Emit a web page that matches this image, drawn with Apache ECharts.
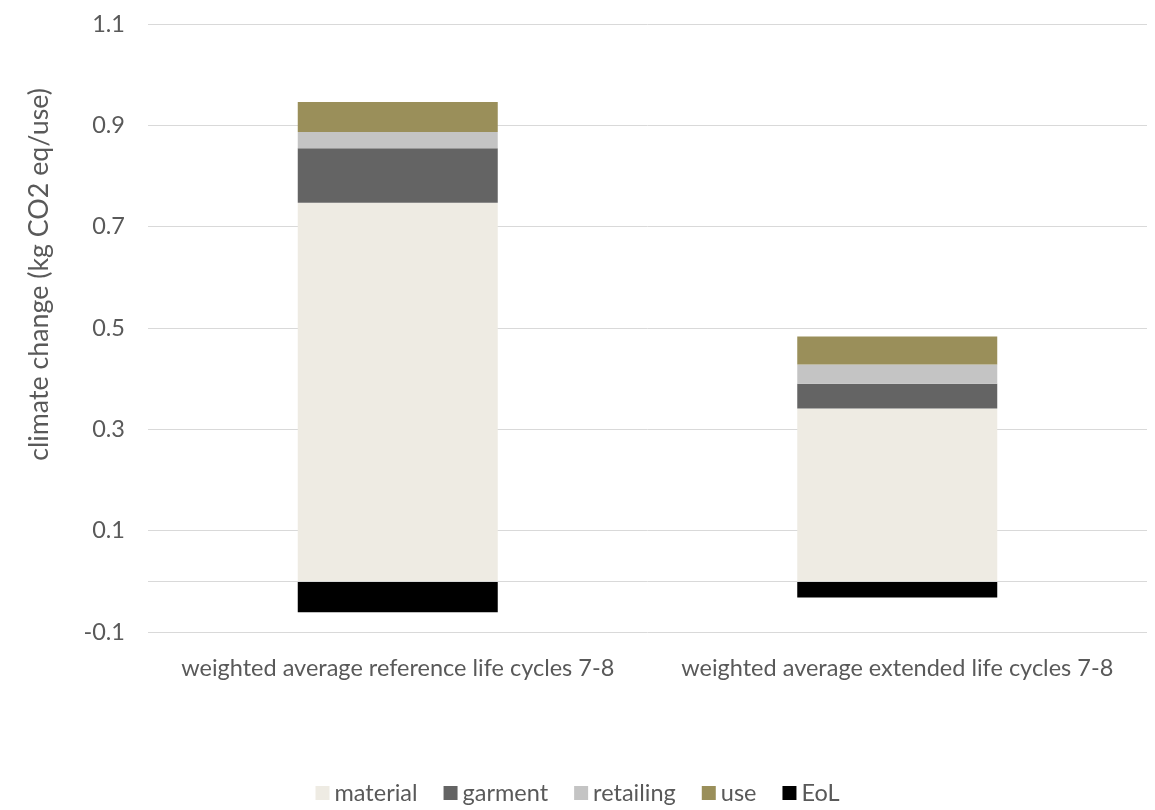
<!DOCTYPE html>
<html><head><meta charset="utf-8">
<script src="https://cdn.jsdelivr.net/npm/echarts@6/dist/echarts.min.js"></script>
<style>html,body{margin:0;padding:0;background:#fff}#c{width:1155px;height:810px}</style>
</head><body><div id="c"></div>
<script>
const categories = ['weighted average reference life cycles 7-8', 'weighted average extended life cycles 7-8'];
const material = [0.747, 0.341];
const garment = [0.108, 0.049];
const retailing = [0.032, 0.038];
const use = [0.059, 0.055];
const eol = [-0.061, -0.032];
const seriesNames = ['material', 'garment', 'retailing', 'use', 'EoL'];
const seriesColors = ['#EEEBE3', '#646464', '#C4C4C4', '#9A8F5A', '#000000'];
const seriesData = [material, garment, retailing, use, eol];
const yTitle = 'climate change (kg CO2 eq/use)';

const font = 'Lato, "Open Sans", sans-serif';
const chart = echarts.init(document.getElementById('c'));
chart.setOption({
  animation: false,
  textStyle: {fontFamily: font},
  grid: {left: 148, right: 8, top: 24, bottom: 178},
  legend: {
    bottom: 0, left: 'center', itemWidth: 14, itemHeight: 14, itemGap: 26,
    icon: 'rect',
    textStyle: {fontFamily: font, fontSize: 23.5, color: '#595959'},
    data: seriesNames
  },
  graphic: [{
    type: 'text', left: 26, top: 88, rotation: Math.PI / 2,
    style: {text: yTitle, font: '26.8px ' + font, fill: '#595959'},
    originX: 0, originY: 0
  }],
  xAxis: {
    type: 'category', data: categories,
    axisLine: {show: false, onZero: false},
    axisTick: {show: false},
    axisLabel: {fontFamily: font, fontSize: 23.5, color: '#595959', margin: 24, interval: 0}
  },
  yAxis: {
    type: 'value', min: -0.1, max: 1.1, interval: 0.2,
    axisLabel: {fontFamily: font, fontSize: 23.5, color: '#595959', margin: 23,
      formatter: v => (Math.round(v * 10) / 10).toString()},
    splitLine: {lineStyle: {color: '#D9D9D9', width: 1}},
    axisLine: {show: false}, axisTick: {show: false}
  },
  series: seriesNames.map((n, i) => {
    const s = {
      name: n, type: 'bar', stack: 'total', barWidth: 200,
      itemStyle: {color: seriesColors[i]},
      data: seriesData[i]
    };
    if (n === 'EoL') {
      s.markLine = {silent: true, symbol: 'none', label: {show: false},
        lineStyle: {color: '#D9D9D9', type: 'solid', width: 1},
        data: [{yAxis: 0}]};
    }
    return s;
  })
});
</script></body></html>
